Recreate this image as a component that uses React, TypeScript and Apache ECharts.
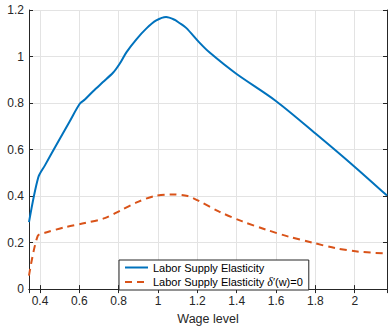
import React, { useEffect, useRef } from "react";
import * as echarts from "echarts";

const wageA = [0.344, 0.391, 0.425, 0.485, 0.55, 0.603, 0.628, 0.67, 0.72, 0.771, 0.805, 0.839, 0.89, 0.94, 0.991, 1.041, 1.084, 1.109, 1.143, 1.207, 1.261, 1.396, 1.599, 1.802, 1.986, 2.164];
const elasticity = [0.288, 0.48, 0.532, 0.623, 0.72, 0.798, 0.815, 0.851, 0.89, 0.93, 0.969, 1.018, 1.074, 1.12, 1.155, 1.17, 1.158, 1.144, 1.123, 1.063, 1.018, 0.927, 0.809, 0.668, 0.536, 0.402];

const wageB = [0.344, 0.388, 0.425, 0.527, 0.628, 0.729, 0.814, 0.898, 0.982, 1.067, 1.151, 1.205, 1.311, 1.429, 1.548, 1.666, 1.784, 1.902, 2.02, 2.164];
const elasticityZero = [0.058, 0.228, 0.242, 0.266, 0.284, 0.305, 0.34, 0.375, 0.4, 0.407, 0.4, 0.38, 0.333, 0.291, 0.256, 0.225, 0.2, 0.176, 0.161, 0.153];

const yTicks = [0, 0.2, 0.4, 0.6, 0.8, 1, 1.2];
const xTicks = [0.4, 0.6, 0.8, 1, 1.2, 1.4, 1.6, 1.8, 2];

const nameA = "Labor Supply Elasticity";
const nameB = "Labor Supply Elasticity δ′(w)=0";
const xName = "Wage level";

const X_MIN = 0.344;
const X_MAX = 2.164;

const FONT = "Liberation Sans, Arial, Helvetica, sans-serif";
const AX = "#262626";

export default function App() {
  const ref = useRef<HTMLDivElement>(null);
  useEffect(() => {
    if (!ref.current) return;
    const chart = echarts.init(ref.current, undefined, { renderer: "svg" });
    const isTick = (v: number, ticks: number[]) => ticks.some((t) => Math.abs(t - v) < 1e-6);
    const axisCommon = {
      axisLine: { show: true, lineStyle: { color: AX, width: 1 } },
      axisTick: { show: true, inside: true, length: 4, lineStyle: { color: AX } },
    };
    chart.setOption({
      animation: false,
      textStyle: { fontFamily: FONT },
      grid: { left: 29, right: 1, top: 10, bottom: 34, containLabel: false },
      legend: {
        orient: "vertical",
        left: 119,
        top: 260,
        padding: [2, 6, 2, 5],
        itemWidth: 23,
        itemHeight: 11,
        itemGap: 3,
        backgroundColor: "#fff",
        borderColor: "#262626",
        borderWidth: 1,
        borderRadius: 0,
        itemStyle: { opacity: 0 },
        data: [nameA, nameB],
        formatter: (n: string) => (n === nameB ? "Labor Supply Elasticity {i|δ}′(w)=0" : n),
        textStyle: {
          fontFamily: FONT,
          fontSize: 11,
          color: "#000",
          rich: {
            i: { fontFamily: "Liberation Serif, DejaVu Serif, serif", fontStyle: "italic", fontSize: 12, color: "#000" },
          },
        },
      },
      xAxis: [
        {
          type: "value",
          min: X_MIN,
          max: X_MAX,
          splitNumber: 9,
          name: xName,
          nameLocation: "middle",
          nameGap: 19,
          nameTextStyle: { fontFamily: FONT, fontSize: 12.5, color: AX },
          ...axisCommon,
          axisLabel: {
            margin: 6,
            fontFamily: FONT,
            fontSize: 12,
            color: AX,
            showMinLabel: false,
            showMaxLabel: false,
            formatter: (v: number) => (isTick(v, xTicks) ? String(Number(v.toFixed(2))) : ""),
          },
          splitLine: { show: true, lineStyle: { color: "#e3e3e3", width: 1 } },
        },
        {
          type: "value",
          position: "top",
          min: X_MIN,
          max: X_MAX,
          splitNumber: 9,
          ...axisCommon,
          axisLabel: { show: false },
          splitLine: { show: false },
        },
      ],
      yAxis: [
        {
          type: "value",
          min: 0,
          max: 1.2,
          interval: 0.2,
          ...axisCommon,
          axisLabel: {
            margin: 5,
            fontFamily: FONT,
            fontSize: 12,
            color: AX,
            formatter: (v: number) => (isTick(v, yTicks) ? String(Number(v.toFixed(2))) : ""),
          },
          splitLine: { show: true, lineStyle: { color: "#e3e3e3", width: 1 } },
        },
        {
          type: "value",
          position: "right",
          min: 0,
          max: 1.2,
          interval: 0.2,
          ...axisCommon,
          axisLabel: { show: false },
          splitLine: { show: false },
        },
      ],
      series: [
        {
          name: nameA,
          type: "line",
          data: wageA.map((w, i) => [w, elasticity[i]]),
          symbol: "none",
          showSymbol: false,
          smooth: 0.3,
          lineStyle: { color: "#0072BD", width: 2 },
          itemStyle: { color: "#0072BD" },
          z: 3,
        },
        {
          name: nameB,
          type: "line",
          data: wageB.map((w, i) => [w, elasticityZero[i]]),
          symbol: "none",
          showSymbol: false,
          smooth: 0.3,
          lineStyle: { color: "#D95319", width: 2, type: [7, 5] },
          itemStyle: { color: "#D95319" },
          z: 2,
        },
      ],
    });
    return () => chart.dispose();
  }, []);
  return <div ref={ref} style={{ width: 388, height: 330, position: "absolute", left: 0, top: 0, background: "#fff" }} />;
}
